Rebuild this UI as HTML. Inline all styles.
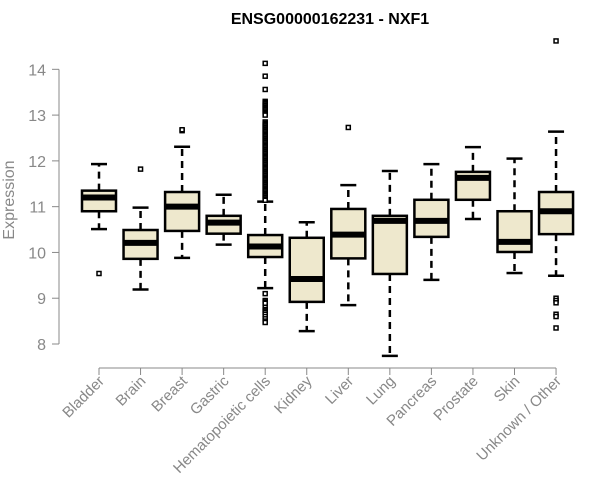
<!DOCTYPE html>
<html><head><meta charset="utf-8"><style>
html,body{margin:0;padding:0;background:#fff}
svg{display:block;font-family:"Liberation Sans",Arial,sans-serif}
</style></head><body>
<svg id="chart" width="600" height="500" viewBox="0 0 600 500">
<text x="330" y="24" text-anchor="middle" font-size="16" font-weight="bold" fill="#000">ENSG00000162231 - NXF1</text>
<text transform="translate(14,200) rotate(-90)" text-anchor="middle" font-size="16" fill="#888">Expression</text>
<g id="plot"></g>
</svg>
<script>
const categories=["Bladder","Brain","Breast","Gastric","Hematopoietic cells","Kidney","Liver","Lung","Pancreas","Prostate","Skin","Unknown / Other"];
const whiskerLow=[10.51,9.19,9.88,10.17,9.22,8.28,8.85,7.74,9.4,10.73,9.55,9.49];
const q1=[10.9,9.86,10.47,10.41,9.9,8.92,9.87,9.53,10.34,11.15,10.01,10.4];
const median=[11.2,10.21,11.0,10.65,10.13,9.42,10.39,10.69,10.69,11.63,10.23,10.9];
const q3=[11.35,10.49,11.32,10.8,10.38,10.32,10.95,10.8,11.15,11.76,10.9,11.32];
const whiskerHigh=[11.93,10.98,12.31,11.26,11.11,10.66,11.47,11.78,11.93,12.3,12.05,12.64];
const outliers=[[9.54],[11.82],[12.66,12.68],[],[14.13,13.85,13.56,13.3,13.27,13.24,13.21,13.18,13.15,13.12,13.09,13.06,13.03,13.0,12.85,12.82,12.79,12.76,12.73,12.7,12.67,12.64,12.61,12.58,12.55,12.52,12.49,12.46,12.43,12.4,12.37,12.34,12.31,12.28,12.25,12.22,12.19,12.16,12.13,12.1,12.07,12.04,12.01,11.98,11.95,11.92,11.89,11.86,11.83,11.8,11.77,11.74,11.71,11.68,11.65,11.62,11.59,11.56,11.53,11.5,11.47,11.44,11.41,11.38,11.35,11.32,11.29,11.26,11.23,11.2,11.17,11.14,9.1,8.95,8.92,8.89,8.8,8.75,8.72,8.69,8.65,8.6,8.55,8.5,8.47],[],[12.73],[],[],[],[],[14.62,9.0,8.95,8.9,8.65,8.6,8.35]];
const yTicks=[8,9,10,11,12,13,14];
const NS="http://www.w3.org/2000/svg";
const g=document.getElementById('plot');
function y(v){return 344-(v-8)*45.78;}
function x(i){return 99+i*41.55;}
function el(t,a,p){const e=document.createElementNS(NS,t);for(const k in a)e.setAttribute(k,a[k]);(p||g).appendChild(e);return e;}
const ax=el('line',{x1:59,x2:59,y1:y(8),y2:y(14),stroke:'#888'});


yTicks.forEach(t=>{
 const l=el('line',{x1:52,x2:59,y1:y(t),y2:y(t),stroke:'#888'});
 
 
 const tx=el('text',{x:46,y:y(t)+6,'text-anchor':'end','font-size':16,fill:'#888'});
 tx.textContent=t;
 
 
});
const xa=el('line',{x1:x(0),x2:x(categories.length-1),y1:368,y2:368,stroke:'#888'});


categories.forEach((c,i)=>{
 const cx=x(i),hw=17;
 const tk=el('line',{x1:cx,x2:cx,y1:368,y2:375,stroke:'#888'});
 
 
 const lb=el('text',{transform:`translate(${cx+6},${382}) rotate(-45)`,'text-anchor':'end','font-size':15,fill:'#888'});
 lb.textContent=c;
 
 
 const bg=el('g',{});
 
 
 el('line',{x1:cx,x2:cx,y1:y(q3[i]),y2:y(whiskerHigh[i]),stroke:'#000','stroke-width':2.5,'stroke-dasharray':'7,5'},bg);
 el('line',{x1:cx,x2:cx,y1:y(q1[i]),y2:y(whiskerLow[i]),stroke:'#000','stroke-width':2.5,'stroke-dasharray':'7,5'},bg);
 el('line',{x1:cx-8,x2:cx+8,y1:y(whiskerHigh[i]),y2:y(whiskerHigh[i]),stroke:'#000','stroke-width':2.5},bg);
 el('line',{x1:cx-8,x2:cx+8,y1:y(whiskerLow[i]),y2:y(whiskerLow[i]),stroke:'#000','stroke-width':2.5},bg);
 el('rect',{x:cx-hw,y:y(q3[i]),width:hw*2,height:y(q1[i])-y(q3[i]),fill:'#EEE8CD',stroke:'#000','stroke-width':2.5},bg);
 el('line',{x1:cx-hw,x2:cx+hw,y1:y(median[i]),y2:y(median[i]),stroke:'#000','stroke-width':6},bg);
 outliers[i].forEach(v=>{
  const o=el('rect',{x:cx-2,y:y(v)-2,width:4,height:4,fill:'#fff',stroke:'#000','stroke-width':1.5},bg);
  
  
 });
});
</script>
</body></html>
